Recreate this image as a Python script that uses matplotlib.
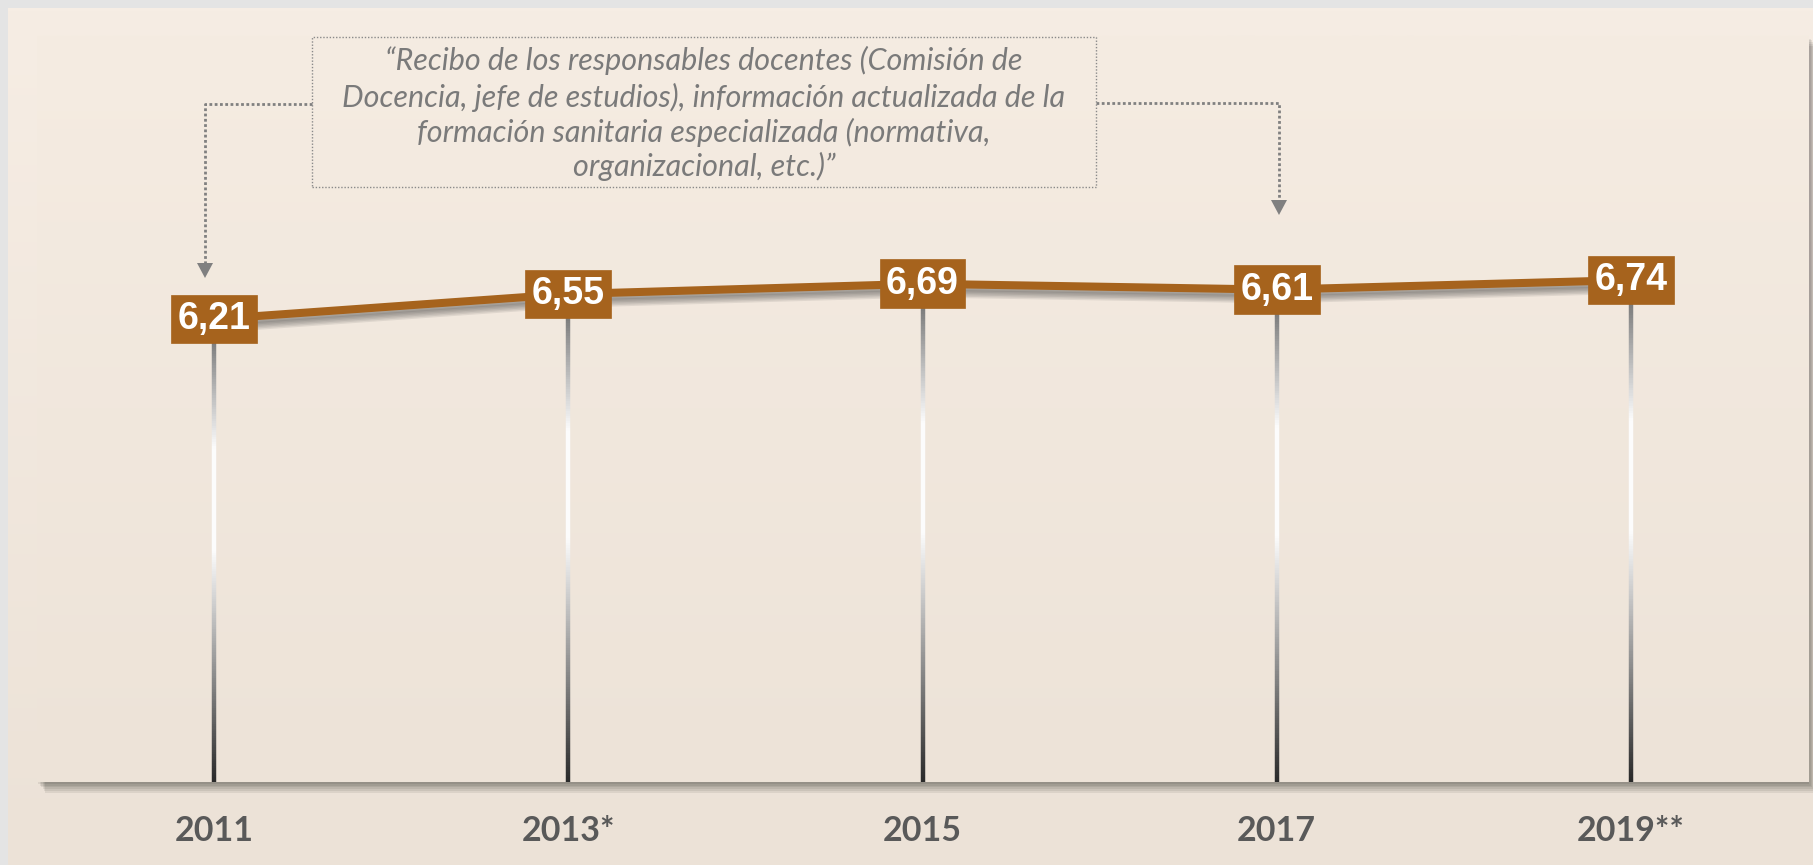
import numpy as np
import matplotlib
matplotlib.use("Agg")
import matplotlib.pyplot as plt
from matplotlib import patheffects as pe
from matplotlib.collections import LineCollection
from matplotlib.patches import Rectangle, Polygon
from matplotlib.lines import Line2D

# ---------------- data ----------------
years = ["2011", "2013*", "2015", "2017", "2019**"]
values = [6.21, 6.55, 6.69, 6.61, 6.74]
value_labels = ["6,21", "6,55", "6,69", "6,61", "6,74"]
note_lines = [
    "\u201cRecibo de los responsables docentes (Comisión de",
    "Docencia, jefe de estudios), información actualizada de la",
    "formación sanitaria especializada (normativa,",
    "organizacional, etc.)\u201d",
]

W, H = 1813, 865
fig = plt.figure(figsize=(W / 100, H / 100), dpi=100)
fig.patch.set_facecolor("#e4e4e4")

def fx(px):
    return px / W

def fy(py):
    return 1 - py / H

# outer panel with vertical gradient
bg = fig.add_axes([fx(8), 0, 1 - fx(8), fy(8)])
bg.set_zorder(-2)
grad = np.linspace(0, 1, 256).reshape(-1, 1)
top_c = np.array(matplotlib.colors.to_rgb("#f6ede4"))
bot_c = np.array(matplotlib.colors.to_rgb("#ece2d7"))
img = top_c[None, None, :] * (1 - grad[..., None]) + bot_c[None, None, :] * grad[..., None]
bg.imshow(img, aspect="auto", extent=[0, 1, 0, 1], origin="upper")
bg.set_axis_off()

# main axes
L, R, T, B = 37, 1808, 35, 782
ax = fig.add_axes([fx(L), fy(B), fx(R - L), (B - T) / H])
ax.set_xlim(-0.5, 4.5)
ax.set_ylim(-0.08, 10.07)
ax.patch.set_facecolor("#ece3d8")
ax.patch.set_path_effects(
    [pe.SimplePatchShadow(offset=(o, -o * 1.3), shadow_rgbFace="#000000", alpha=0.07) for o in range(1, 7)]
    + [pe.Normal()]
)
top_i = np.array(matplotlib.colors.to_rgb("#f5ece2"))
bot_i = np.array(matplotlib.colors.to_rgb("#ede3d8"))
img2 = top_i[None, None, :] * (1 - grad[..., None]) + bot_i[None, None, :] * grad[..., None]
ax.imshow(img2, aspect="auto", extent=[0, 1, 0, 1], transform=ax.transAxes, origin="upper", zorder=0)
for s in ax.spines.values():
    s.set_visible(False)
ax.set_yticks([])
x = np.arange(len(years))
ax.set_xticks(x)
ax.set_xticklabels(years, fontfamily="Lato", fontweight="bold", fontsize=24.5, color="#595959")
ax.tick_params(axis="x", length=0, pad=24)

# vertical gradient drop lines
ybot = ax.get_ylim()[0]
def shade(t):
    pts = [(0.0, 0.38), (0.28, 0.99), (0.50, 0.99), (0.62, 0.80), (1.0, 0.16)]
    ts = [p[0] for p in pts]
    vs = [p[1] for p in pts]
    g = np.interp(t, ts, vs)
    return (g, g, g)

for xi, v in zip(x, values):
    n = 200
    ys = np.linspace(v, ybot, n + 1)
    segs = [[(xi, ys[k]), (xi, ys[k + 1])] for k in range(n)]
    cols = [shade((k + 0.5) / n) for k in range(n)]
    lc = LineCollection(segs, colors=cols, linewidths=3.2, zorder=2, capstyle="butt")
    ax.add_collection(lc)

# main line
line_pe = [pe.SimpleLineShadow(offset=(1, -o), shadow_color="#3a3a3a", alpha=0.10) for o in (2, 3, 4, 5, 6, 7)]
ax.plot(x, values, color="#a6631d", linewidth=5.8, zorder=3, solid_capstyle="butt",
        path_effects=line_pe + [pe.Normal()])

# value boxes
for xi, v, lab in zip(x, values, value_labels):
    ax.text(xi, v, lab, ha="center", va="center", fontsize=27, fontweight="bold",
            fontfamily="Liberation Sans", color="white", zorder=5,
            bbox=dict(boxstyle="square,pad=0.17", facecolor="#a6631d", edgecolor="#a6631d", linewidth=0.5))

# annotation box
bx0, bx1, by0, by1 = 312, 1096, 37, 187
fig.patches.append(Rectangle((fx(bx0), fy(by1)), fx(bx1 - bx0), (by1 - by0) / H, transform=fig.transFigure,
                             facecolor="none", edgecolor="#8a8a8a", linewidth=1.0,
                             linestyle=(0, (1, 1.3)), zorder=6))
for i, (txt, yy) in enumerate(zip(note_lines, [60, 97, 132, 166])):
    fig.text(fx((bx0 + bx1) / 2), fy(yy), txt, ha="center", va="center", fontsize=22,
             fontfamily="Lato", fontstyle="italic", color="#7a7a7a", zorder=7)

# connectors
dot = dict(color="#808080", linewidth=2.0, linestyle=(0, (1, 0.9)), dash_capstyle="butt",
           transform=fig.transFigure, zorder=6)
fig.lines.append(Line2D([fx(bx0), fx(205), fx(205)], [fy(104), fy(104), fy(264)], **dot))
fig.lines.append(Line2D([fx(bx1), fx(1279), fx(1279)], [fy(103), fy(103), fy(201)], **dot))
for tipx, tipy in [(205, 278), (1279, 215)]:
    fig.patches.append(Polygon([(fx(tipx - 8), fy(tipy - 15)), (fx(tipx + 8), fy(tipy - 15)), (fx(tipx), fy(tipy))],
                               closed=True, transform=fig.transFigure, facecolor="#808080",
                               edgecolor="none", zorder=6))

fig.savefig("out.png", dpi=100, facecolor=fig.get_facecolor())
